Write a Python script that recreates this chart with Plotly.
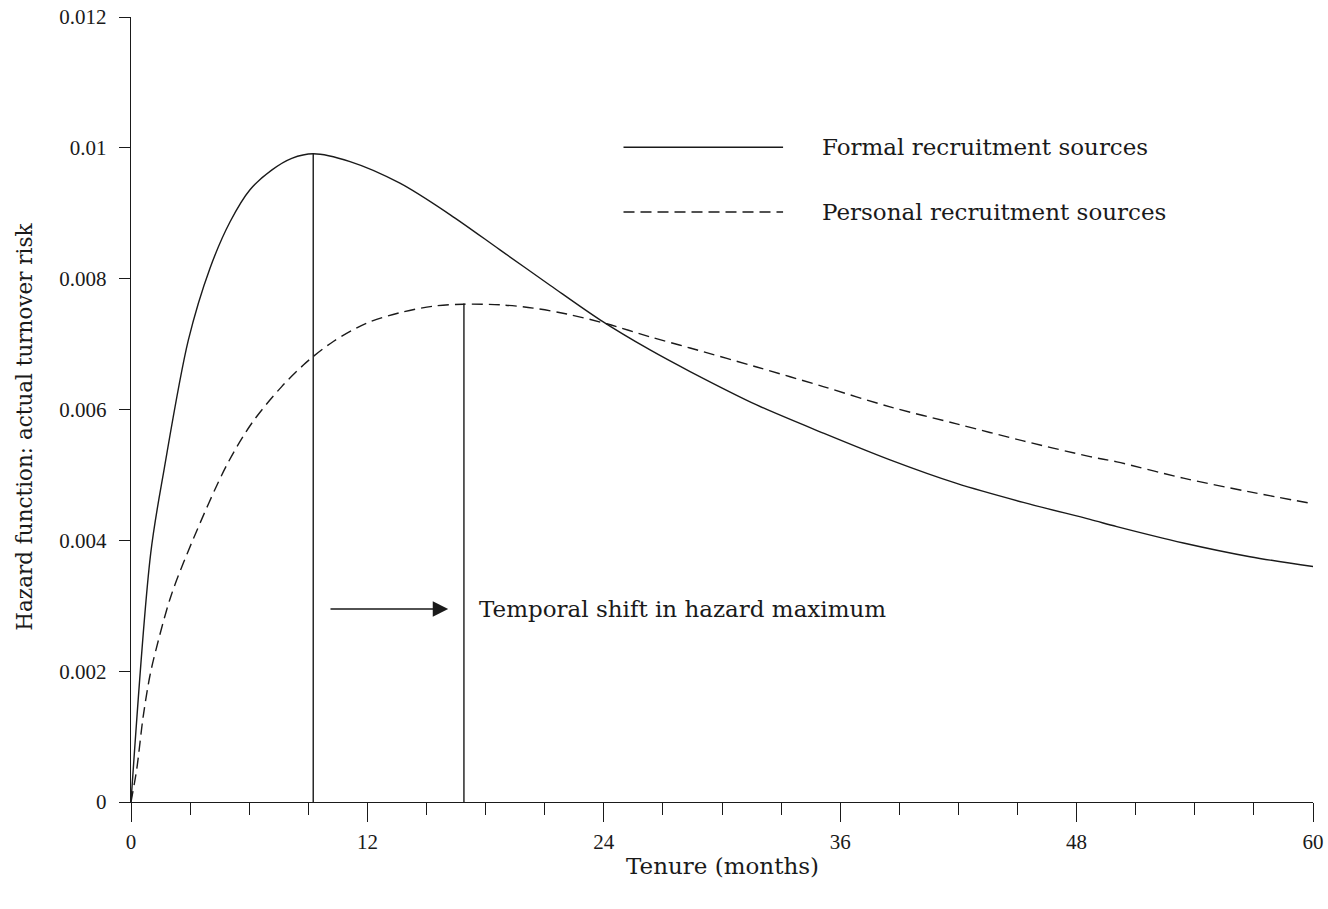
import plotly.graph_objects as go

# Tenure (months) and hazard values
formal_t = [0, 1.0, 1.69, 2.91, 4.01, 5.03, 6.04, 7.14, 8.16, 9.25, 11.12, 13.65,
            16.19, 18.73, 21.27, 23.81, 26.35, 28.38, 31.76, 35.14, 38.53, 41.91, 45.29,
            48.68, 50.04, 53.42, 56.8, 60]
formal_h = [0.0, 0.0038, 0.0051, 0.00706, 0.00816, 0.00887, 0.00936, 0.00966, 0.00984,
            0.00991, 0.00979, 0.00946, 0.00898, 0.00844, 0.00790, 0.00737, 0.00691,
            0.00658, 0.00607, 0.00564, 0.00523, 0.00487, 0.00458, 0.00432, 0.00421,
            0.00396, 0.00375, 0.00360]

personal_t = [0, 0.29, 0.62, 0.96, 1.27, 2.03, 3.16, 4.86, 6.13, 7.65, 8.75, 9.25, 10.27,
              11.96, 13.65, 15.35, 16.87, 18.73, 20.42, 22.12, 24.15, 26.35, 28.38, 31.76,
              35.14, 38.53, 41.91, 45.29, 48.68, 50.04, 53.42, 56.8, 60]
personal_h = [0.0, 0.0005, 0.00131, 0.00193, 0.00233, 0.00315, 0.00402, 0.00515, 0.00579,
              0.00635, 0.00668, 0.00681, 0.00704, 0.00732, 0.00748, 0.00758, 0.00761,
              0.00760, 0.00755, 0.00746, 0.00731, 0.00711, 0.00694, 0.00665, 0.00635,
              0.00604, 0.00578, 0.00552, 0.00528, 0.00520, 0.00495, 0.00474, 0.00456]

# Hazard maxima (vertical markers)
peak_t = [9.25, 16.9]
peak_h = [0.00991, 0.00762]

# Legend samples (in data coordinates)
legend_names = ["Formal recruitment sources", "Personal recruitment sources"]
legend_x = [25.0, 33.1]
legend_y = [0.01001, 0.00902]
legend_text_x = 34.95

# Arrow annotation
arrow_from = 10.05
arrow_to = 16.1
arrow_y = 0.00295
arrow_label = "Temporal shift in hazard maximum"
arrow_label_x = 17.55

x_ticks = [0, 12, 24, 36, 48, 60]
y_ticks = [0, 0.002, 0.004, 0.006, 0.008, 0.01, 0.012]
y_ticklabels = ["0", "0.002", "0.004", "0.006", "0.008", "0.01", "0.012"]

INK = "#1a1a1a"
BIG = dict(family="DejaVu Serif", size=23, color=INK)
YTITLE = dict(family="DejaVu Serif", size=21.5, color=INK)
TICK = dict(family="Liberation Serif", size=21, color=INK)
DASH = "11px,6px"

fig = go.Figure()

fig.add_trace(go.Scatter(x=formal_t, y=formal_h, mode="lines",
                         line=dict(color=INK, width=1.4, shape="spline", smoothing=0.9),
                         showlegend=False, hoverinfo="skip"))
fig.add_trace(go.Scatter(x=personal_t, y=personal_h, mode="lines",
                         line=dict(color=INK, width=1.4, dash=DASH, shape="spline", smoothing=0.9),
                         showlegend=False, hoverinfo="skip"))

for t, h in zip(peak_t, peak_h):
    fig.add_trace(go.Scatter(x=[t, t], y=[0, h], mode="lines",
                             line=dict(color=INK, width=1.4),
                             showlegend=False, hoverinfo="skip"))

# Legend drawn in the plot
styles = ["solid", DASH]
for name, y, st in zip(legend_names, legend_y, styles):
    fig.add_trace(go.Scatter(x=legend_x, y=[y, y], mode="lines",
                             line=dict(color=INK, width=1.4, dash=st),
                             showlegend=False, hoverinfo="skip"))
    fig.add_annotation(x=legend_text_x, y=y, xref="x", yref="y", text=name,
                       showarrow=False, xanchor="left", yanchor="middle", font=BIG)

fig.add_annotation(x=arrow_to, y=arrow_y, ax=arrow_from, ay=arrow_y,
                   xref="x", yref="y", axref="x", ayref="y", text="",
                   showarrow=True, arrowhead=2, arrowsize=2.2, arrowwidth=1.4,
                   arrowcolor=INK)
fig.add_annotation(x=arrow_label_x, y=arrow_y, xref="x", yref="y", text=arrow_label,
                   showarrow=False, xanchor="left", yanchor="middle", font=BIG)

# Axis titles
fig.add_annotation(x=-0.0897, y=0.478, xref="paper", yref="paper",
                   text="Hazard function: actual turnover risk", textangle=-90,
                   showarrow=False, xanchor="center", yanchor="middle", font=YTITLE)
fig.add_annotation(x=0.5, y=-0.081, xref="paper", yref="paper",
                   text="Tenure (months)", showarrow=False,
                   xanchor="center", yanchor="middle", font=BIG)

fig.update_xaxes(range=[0, 60], tickvals=x_ticks, ticktext=[str(v) for v in x_ticks],
                 showgrid=False, zeroline=False, showline=True, linecolor=INK, linewidth=1.4,
                 ticks="outside", ticklen=19, tickwidth=1.4, tickcolor=INK,
                 tickfont=TICK, ticklabelstandoff=2, automargin=False,
                 ticklabeloverflow="allow",
                 minor=dict(dtick=3, ticks="outside", ticklen=12, tickwidth=1.4,
                            tickcolor=INK, showgrid=False))
fig.update_yaxes(range=[0, 0.012], tickvals=y_ticks, ticktext=y_ticklabels,
                 showgrid=False, zeroline=False, showline=True, linecolor=INK, linewidth=1.4,
                 ticks="outside", ticklen=11, tickwidth=1.4, tickcolor=INK,
                 tickfont=TICK, ticklabelstandoff=8, automargin=False,
                 ticklabeloverflow="allow")

fig.update_layout(width=1328, height=909,
                  margin=dict(l=131, r=15, t=17, b=107),
                  plot_bgcolor="white", paper_bgcolor="white",
                  showlegend=False)

# Remove the page's default body margin so the figure fills the window exactly
fig.write_html("out.html",
               config={"displayModeBar": False},
               post_script="document.body.style.margin='0';document.body.style.overflow='hidden';")
